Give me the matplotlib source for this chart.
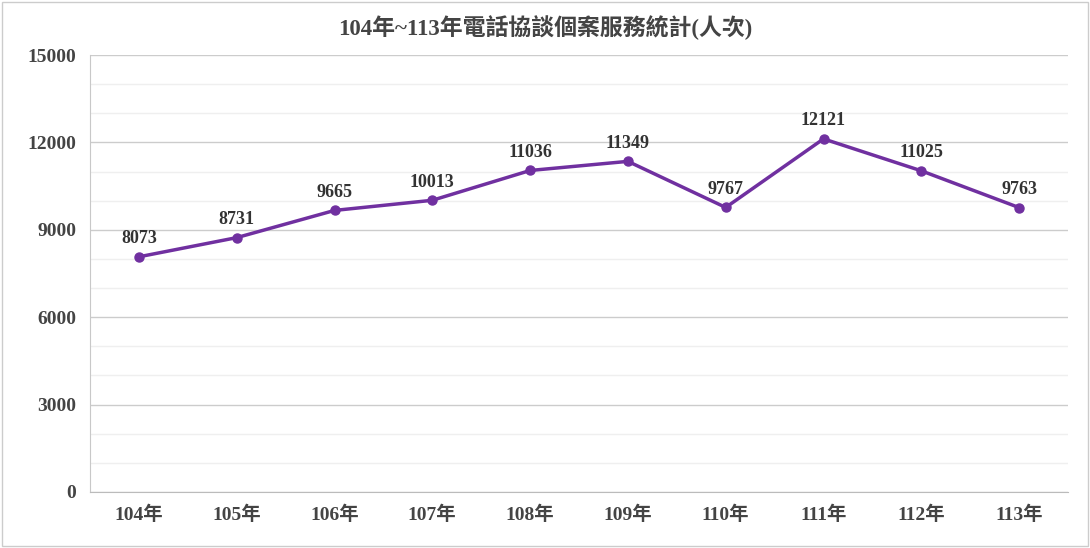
import matplotlib
matplotlib.use("Agg")
import matplotlib.pyplot as plt
from matplotlib.ticker import MultipleLocator

years = ["104年","105年","106年","107年","108年","109年","110年","111年","112年","113年"]
values = [8073, 8731, 9665, 10013, 11036, 11349, 9767, 12121, 11025, 9763]
title = "104年~113年電話協談個案服務統計(人次)"

fonts = ["Liberation Serif", "Noto Sans CJK TC"]
fig = plt.figure(figsize=(10.9, 5.48), dpi=100)
ax = fig.add_axes([90/1090, 1-492/548, (1068-90)/1090, (492-55)/548])
x = list(range(len(years)))
ax.plot(x, values, color="#7030A0", lw=2.5, marker="o", ms=6.5)
for xi, v in zip(x, values):
    ax.annotate(str(v), (xi, v), xytext=(0, 7), textcoords="offset points",
                ha="center", va="bottom", fontsize=13, fontweight="bold",
                family=fonts, color="#333333")
ax.set_xlim(-0.5, len(years)-0.5)
ax.set_ylim(0, 15000)
ax.yaxis.set_major_locator(MultipleLocator(3000))
ax.yaxis.set_minor_locator(MultipleLocator(1000))
ax.grid(axis="y", which="minor", color="#efefef", lw=1)
ax.grid(axis="y", which="major", color="#cccccc", lw=1)
ax.set_axisbelow(True)
ax.set_xticks(x)
ax.set_xticklabels(years)
for lab in ax.get_xticklabels() + ax.get_yticklabels():
    lab.set_family(fonts); lab.set_fontweight("bold"); lab.set_fontsize(14); lab.set_color("#444444")
ax.tick_params(which="both", length=0, pad=10)
for s in ["top", "right"]:
    ax.spines[s].set_visible(False)
ax.spines["left"].set_color("#c8c8c8")
ax.spines["bottom"].set_color("#bbbbbb")
fig.text(0.5, 1-28/548, title, ha="center", va="center", fontsize=16.5,
         fontweight="bold", family=fonts, color="#444444")
fig.patches.append(matplotlib.patches.Rectangle((0.002, 0.003), 0.996, 0.994,
                   transform=fig.transFigure, fill=False, ec="#cccccc", lw=1))
fig.savefig("out.png", dpi=100)
